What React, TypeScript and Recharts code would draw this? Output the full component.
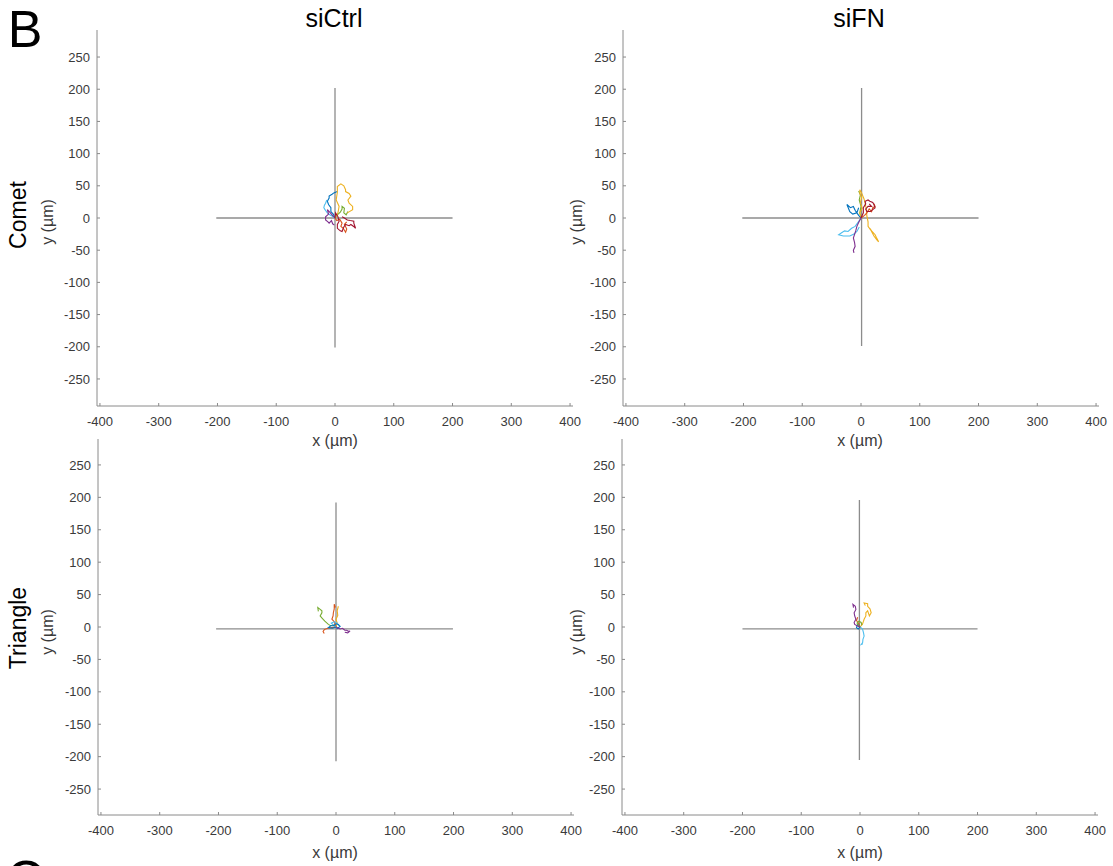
import React from 'react';
import { LineChart, Line, XAxis, YAxis } from 'recharts';

type Pt = { x: number; y: number };

const xTicks = [-400, -300, -200, -100, 0, 100, 200, 300, 400];
const yTicks = [-250, -200, -150, -100, -50, 0, 50, 100, 150, 200, 250];

const columnTitles = ['siCtrl', 'siFN'];
const rowTitles = ['Comet', 'Triangle'];

// crosshair guides through the start point
const ctrlCometH: Pt[] = [{ x: -202, y: 0 }, { x: 200, y: 0 }];
const ctrlCometV: Pt[] = [{ x: 0, y: -201 }, { x: 0, y: 202 }];
const fnCometH: Pt[] = [{ x: -202, y: 0 }, { x: 200, y: 0 }];
const fnCometV: Pt[] = [{ x: 1, y: -199 }, { x: 1, y: 202 }];
const ctrlTriH: Pt[] = [{ x: -204, y: -3 }, { x: 199, y: -3 }];
const ctrlTriV: Pt[] = [{ x: 0, y: -207 }, { x: 0, y: 192 }];
const fnTriH: Pt[] = [{ x: -200, y: -3 }, { x: 200, y: -3 }];
const fnTriV: Pt[] = [{ x: -1, y: -205 }, { x: -1, y: 196 }];

// siCtrl / Comet tracks
const ctrlCometYellow: Pt[] = [
  { x: 0, y: 0 }, { x: 5, y: 8 }, { x: 7, y: 18 }, { x: 2, y: 28 }, { x: 4, y: 40 }, { x: 4, y: 49 },
  { x: 10, y: 53 }, { x: 15, y: 50 }, { x: 18, y: 44 }, { x: 18, y: 41 }, { x: 24, y: 38 }, { x: 27, y: 34 },
  { x: 22, y: 28 }, { x: 24, y: 23 }, { x: 30, y: 18 }, { x: 30, y: 13 }, { x: 21, y: 8 },
];
const ctrlCometRed: Pt[] = [
  { x: 0, y: 0 }, { x: 1, y: 8 }, { x: 5, y: 2 }, { x: 7, y: -5 }, { x: 4, y: -10 }, { x: 4, y: -16 },
  { x: 9, y: -20 }, { x: 12, y: -21 }, { x: 15, y: -14 }, { x: 18, y: -10 }, { x: 24, y: -12 }, { x: 27, y: -10 },
  { x: 33, y: -14 }, { x: 35, y: -16 }, { x: 32, y: -8 }, { x: 32, y: -5 }, { x: 26, y: -4 }, { x: 21, y: -3 },
  { x: 16, y: 0 }, { x: 12, y: 2 },
];
const ctrlCometOrange: Pt[] = [
  { x: 0, y: 0 }, { x: 3, y: -4 }, { x: 8, y: -2 }, { x: 12, y: -8 }, { x: 10, y: -13 }, { x: 14, y: -16 },
  { x: 18, y: -22 }, { x: 20, y: -17 }, { x: 16, y: -10 }, { x: 20, y: -6 },
];
const ctrlCometBlue: Pt[] = [
  { x: 0, y: 0 }, { x: -3, y: 6 }, { x: -7, y: 10 }, { x: -7, y: 16 }, { x: -11, y: 21 }, { x: -13, y: 26 },
  { x: -10, y: 31 }, { x: -10, y: 34 }, { x: -5, y: 37 }, { x: -2, y: 39 }, { x: 4, y: 41 },
];
const ctrlCometCyan: Pt[] = [
  { x: 0, y: 0 }, { x: -5, y: 3 }, { x: -9, y: 5 }, { x: -13, y: 8 }, { x: -17, y: 13 }, { x: -19, y: 16 },
  { x: -18, y: 20 }, { x: -16, y: 23 }, { x: -14, y: 28 },
];
const ctrlCometPurple: Pt[] = [
  { x: 0, y: 0 }, { x: -5, y: 5 }, { x: -9, y: 9 }, { x: -13, y: 13 }, { x: -11, y: 6 }, { x: -16, y: 2 },
  { x: -16, y: -3 }, { x: -12, y: -6 }, { x: -10, y: -8 }, { x: -6, y: -4 }, { x: -4, y: -9 }, { x: -1, y: -11 },
];
const ctrlCometGreen: Pt[] = [
  { x: 0, y: 0 }, { x: 4, y: 5 }, { x: 9, y: 9 }, { x: 12, y: 14 }, { x: 12, y: 18 }, { x: 16, y: 15 },
  { x: 15, y: 8 }, { x: 19, y: 5 }, { x: 22, y: 10 },
];

// siFN / Comet tracks
const fnCometYellow: Pt[] = [
  { x: 0, y: 0 }, { x: -2, y: 8 }, { x: 2, y: 15 }, { x: -1, y: 24 }, { x: 1, y: 32 }, { x: -2, y: 38 },
  { x: -2, y: 44 }, { x: 1, y: 39 }, { x: 5, y: 30 }, { x: 7, y: 23 }, { x: 9, y: 14 }, { x: 10, y: 3 },
  { x: 12, y: -6 }, { x: 12, y: -13 }, { x: 16, y: -18 }, { x: 18, y: -21 }, { x: 22, y: -28 }, { x: 27, y: -34 },
  { x: 30, y: -37 }, { x: 26, y: -30 }, { x: 24, y: -26 }, { x: 18, y: -20 }, { x: 15, y: -16 },
];
const fnCometRed: Pt[] = [
  { x: 0, y: 0 }, { x: 4, y: 8 }, { x: 4, y: 16 }, { x: 8, y: 22 }, { x: 7, y: 26 }, { x: 12, y: 28 },
  { x: 15, y: 26 }, { x: 20, y: 24 }, { x: 22, y: 21 }, { x: 24, y: 16 }, { x: 20, y: 13 }, { x: 16, y: 10 },
  { x: 10, y: 10 }, { x: 8, y: 14 }, { x: 12, y: 18 }, { x: 18, y: 18 }, { x: 14, y: 22 },
];
const fnCometOrange: Pt[] = [
  { x: 0, y: 0 }, { x: 6, y: 4 }, { x: 10, y: 8 }, { x: 14, y: 14 }, { x: 18, y: 10 }, { x: 20, y: 16 },
  { x: 24, y: 18 }, { x: 22, y: 22 },
];
const fnCometBlue: Pt[] = [
  { x: 0, y: 0 }, { x: -4, y: 4 }, { x: -7, y: 8 }, { x: -10, y: 12 }, { x: -13, y: 18 }, { x: -18, y: 16 },
  { x: -24, y: 21 }, { x: -20, y: 12 }, { x: -19, y: 10 }, { x: -14, y: 6 }, { x: -7, y: 8 }, { x: -4, y: 16 },
];
const fnCometCyan: Pt[] = [
  { x: 0, y: 0 }, { x: -2, y: -3 }, { x: -6, y: -8 }, { x: -10, y: -13 }, { x: -16, y: -16 }, { x: -22, y: -21 },
  { x: -28, y: -20 }, { x: -33, y: -23 }, { x: -38, y: -26 }, { x: -30, y: -28 }, { x: -19, y: -28 },
  { x: -12, y: -25 }, { x: -7, y: -21 }, { x: -3, y: -14 },
];
const fnCometPurple: Pt[] = [
  { x: 0, y: 0 }, { x: -3, y: -5 }, { x: -7, y: -13 }, { x: -9, y: -20 }, { x: -13, y: -31 }, { x: -11, y: -38 },
  { x: -10, y: -44 }, { x: -13, y: -50 }, { x: -12, y: -54 },
];
const fnCometGreen: Pt[] = [
  { x: 0, y: 0 }, { x: -2, y: 8 }, { x: 0, y: 18 }, { x: -3, y: 28 }, { x: -1, y: 36 }, { x: -4, y: 42 },
];

// siCtrl / Triangle tracks
const ctrlTriGreen: Pt[] = [
  { x: 0, y: 0 }, { x: -5, y: 3 }, { x: -9, y: 2 }, { x: -13, y: 4 }, { x: -19, y: 9 }, { x: -23, y: 13 },
  { x: -27, y: 17 }, { x: -24, y: 22 }, { x: -24, y: 25 }, { x: -28, y: 28 }, { x: -31, y: 30 }, { x: -30, y: 24 },
];
const ctrlTriOrange: Pt[] = [
  { x: 0, y: 0 }, { x: -2, y: 4 }, { x: -2, y: 7 }, { x: -7, y: 12 }, { x: -5, y: 17 }, { x: -4.5, y: 22 },
  { x: -3, y: 28 }, { x: -3, y: 35 }, { x: -1, y: 30 },
];
const ctrlTriYellow: Pt[] = [
  { x: 0, y: 0 }, { x: 2, y: 6 }, { x: 0, y: 12 }, { x: 3, y: 18 }, { x: 2, y: 25 }, { x: 4, y: 32 },
];
const ctrlTriPurple: Pt[] = [
  { x: 0, y: 0 }, { x: 4, y: -2 }, { x: 7, y: -3 }, { x: 11, y: -2 }, { x: 15, y: -5 }, { x: 18, y: -5 },
  { x: 22, y: -7 }, { x: 24, y: -6 }, { x: 20, y: -9 }, { x: 15, y: -8 },
];
const ctrlTriBlue: Pt[] = [
  { x: 0, y: 0 }, { x: -6, y: -2 }, { x: -13, y: -1 }, { x: -9, y: 2 }, { x: -4, y: 2 }, { x: 0, y: 5 },
  { x: 4, y: 4 }, { x: 7, y: 1 }, { x: 1, y: -3 },
];
const ctrlTriCyan: Pt[] = [
  { x: 0, y: 0 }, { x: -4, y: 3 }, { x: -8, y: 6 }, { x: -3, y: 8 }, { x: 2, y: 6 }, { x: 5, y: 2 },
];
const ctrlTriRed: Pt[] = [
  { x: 0, y: 0 }, { x: -7, y: -1 }, { x: -14, y: -2 }, { x: -20, y: -4 }, { x: -22, y: -7 }, { x: -20, y: -10 },
];

// siFN / Triangle tracks
const fnTriPurple: Pt[] = [
  { x: 0, y: 0 }, { x: -4, y: 1.5 }, { x: -9, y: 4 }, { x: -10, y: 7 }, { x: -7, y: 12 }, { x: -9, y: 17 },
  { x: -10, y: 22 }, { x: -7, y: 27 }, { x: -8, y: 32 }, { x: -12, y: 35 }, { x: -11, y: 30 },
];
const fnTriYellow: Pt[] = [
  { x: 0, y: 0 }, { x: 4, y: 4 }, { x: 6, y: 9 }, { x: 7, y: 12 }, { x: 10, y: 17 }, { x: 10, y: 22 },
  { x: 13, y: 25 }, { x: 16, y: 17 }, { x: 19, y: 22 }, { x: 17, y: 28 }, { x: 13, y: 32 }, { x: 13, y: 36 },
  { x: 7, y: 37 }, { x: 9, y: 33 },
];
const fnTriCyan: Pt[] = [
  { x: 0, y: 0 }, { x: 3, y: -2 }, { x: 4.5, y: -4 }, { x: 6, y: -9 }, { x: 7, y: -14 }, { x: 5, y: -19 },
  { x: 4.5, y: -24 }, { x: 2, y: -27 }, { x: 5, y: -26 },
];
const fnTriGreen: Pt[] = [
  { x: 0, y: 0 }, { x: -3, y: 3 }, { x: -5, y: 6 }, { x: -2, y: 9 }, { x: 2, y: 7 }, { x: 3, y: 3 },
];
const fnTriBlue: Pt[] = [
  { x: 0, y: 0 }, { x: -3, y: -3 }, { x: -6, y: -1 }, { x: -4, y: 4 }, { x: -1, y: 2 },
];
const fnTriOrange: Pt[] = [
  { x: 0, y: 0 }, { x: -2, y: 5 }, { x: -6, y: 10 }, { x: -4, y: 15 },
];

// MATLAB "lines" colour order
const C = {
  blue: '#0072BD',
  orange: '#D95319',
  yellow: '#EDB120',
  purple: '#7E2F8E',
  green: '#77AC30',
  cyan: '#4DBEEE',
  red: '#A2142F',
};

type Track = { data: Pt[]; color: string };

const panels: {
  left: number;
  top: number;
  yDomain: [number, number];
  guides: Pt[][];
  tracks: Track[];
}[] = [
  {
    left: 47, top: 20, yDomain: [-292, 292],
    guides: [ctrlCometH, ctrlCometV],
    tracks: [
      { data: ctrlCometBlue, color: C.blue },
      { data: ctrlCometCyan, color: C.cyan },
      { data: ctrlCometGreen, color: C.green },
      { data: ctrlCometYellow, color: C.yellow },
      { data: ctrlCometOrange, color: C.orange },
      { data: ctrlCometPurple, color: C.purple },
      { data: ctrlCometRed, color: C.red },
    ],
  },
  {
    left: 573, top: 20, yDomain: [-292, 292],
    guides: [fnCometH, fnCometV],
    tracks: [
      { data: fnCometGreen, color: C.green },
      { data: fnCometYellow, color: C.yellow },
      { data: fnCometCyan, color: C.cyan },
      { data: fnCometBlue, color: C.blue },
      { data: fnCometPurple, color: C.purple },
      { data: fnCometOrange, color: C.orange },
      { data: fnCometRed, color: C.red },
    ],
  },
  {
    left: 48, top: 429, yDomain: [-290, 290],
    guides: [ctrlTriH, ctrlTriV],
    tracks: [
      { data: ctrlTriGreen, color: C.green },
      { data: ctrlTriYellow, color: C.yellow },
      { data: ctrlTriOrange, color: C.orange },
      { data: ctrlTriRed, color: C.orange },
      { data: ctrlTriCyan, color: C.cyan },
      { data: ctrlTriBlue, color: C.blue },
      { data: ctrlTriPurple, color: C.purple },
    ],
  },
  {
    left: 572, top: 429, yDomain: [-290, 290],
    guides: [fnTriH, fnTriV],
    tracks: [
      { data: fnTriYellow, color: C.yellow },
      { data: fnTriOrange, color: C.orange },
      { data: fnTriCyan, color: C.cyan },
      { data: fnTriBlue, color: C.blue },
      { data: fnTriGreen, color: C.green },
      { data: fnTriPurple, color: C.purple },
    ],
  },
];

const AXIS = '#8a8a8a';
const TICK_TEXT = { fill: '#3a3a3a', fontSize: 13, fontFamily: 'Liberation Sans, Arial, sans-serif' };

function TrackPanel({ left, top, yDomain, guides, tracks }: (typeof panels)[number]) {
  return (
    <div style={{ position: 'absolute', left, top }}>
      <LineChart width={546} height={420} margin={{ top: 10, right: 20, bottom: 0, left: 0 }}>
        <XAxis
          type="number"
          dataKey="x"
          domain={[-405, 405]}
          ticks={xTicks}
          allowDataOverflow
          stroke={AXIS}
          tickSize={-3}
          tickMargin={14}
          height={34}
          tick={TICK_TEXT}
          interval={0}
        />
        <YAxis
          type="number"
          dataKey="y"
          domain={yDomain}
          ticks={yTicks}
          allowDataOverflow
          stroke={AXIS}
          tickSize={-3}
          tickMargin={10}
          width={50}
          tick={TICK_TEXT}
          interval={0}
        />
        {guides.map((g, i) => (
          <Line
            key={'g' + i}
            data={g}
            dataKey="y"
            type="linear"
            stroke="#8c8c8c"
            strokeWidth={1.3}
            dot={false}
            isAnimationActive={false}
          />
        ))}
        {tracks.map((t, i) => (
          <Line
            key={'t' + i}
            data={t.data}
            dataKey="y"
            type="linear"
            stroke={t.color}
            strokeWidth={1.1}
            dot={false}
            isAnimationActive={false}
          />
        ))}
      </LineChart>
    </div>
  );
}

function Txt({
  x, y, size, rotate = 0, color = '#000', family = 'Liberation Sans, Arial, sans-serif', children,
}: {
  x: number; y: number; size: number; rotate?: number; color?: string; family?: string; children: React.ReactNode;
}) {
  return (
    <div
      style={{
        position: 'absolute',
        left: x,
        top: y,
        transform: `translate(-50%, -50%) rotate(${rotate}deg)`,
        fontSize: size,
        fontFamily: family,
        lineHeight: 1,
        whiteSpace: 'nowrap',
        color,
      }}
    >
      {children}
    </div>
  );
}

export default function App() {
  return (
    <div
      style={{
        position: 'absolute',
        left: 0,
        top: 0,
        width: 1113,
        height: 866,
        background: '#fff',
        overflow: 'hidden',
      }}
    >
      {panels.map((p, i) => (
        <TrackPanel key={i} {...p} />
      ))}

      <Txt x={25} y={29} size={52}>B</Txt>
      <Txt x={25} y={879} size={52}>C</Txt>

      <Txt x={334} y={18} size={25}>{columnTitles[0]}</Txt>
      <Txt x={859} y={18} size={25}>{columnTitles[1]}</Txt>

      <Txt x={18} y={215} size={23} rotate={-90}>{rowTitles[0]}</Txt>
      <Txt x={18} y={628} size={23} rotate={-90}>{rowTitles[1]}</Txt>

      <Txt x={48} y={222} size={16} rotate={-90} color="#3a3a3a">y (µm)</Txt>
      <Txt x={577} y={222} size={16} rotate={-90} color="#3a3a3a">y (µm)</Txt>
      <Txt x={48} y={632} size={16} rotate={-90} color="#3a3a3a">y (µm)</Txt>
      <Txt x={577} y={632} size={16} rotate={-90} color="#3a3a3a">y (µm)</Txt>

      <Txt x={335} y={441} size={16} color="#3a3a3a">x (µm)</Txt>
      <Txt x={860} y={441} size={16} color="#3a3a3a">x (µm)</Txt>
      <Txt x={335} y={853} size={16} color="#3a3a3a">x (µm)</Txt>
      <Txt x={860} y={853} size={16} color="#3a3a3a">x (µm)</Txt>
    </div>
  );
}
